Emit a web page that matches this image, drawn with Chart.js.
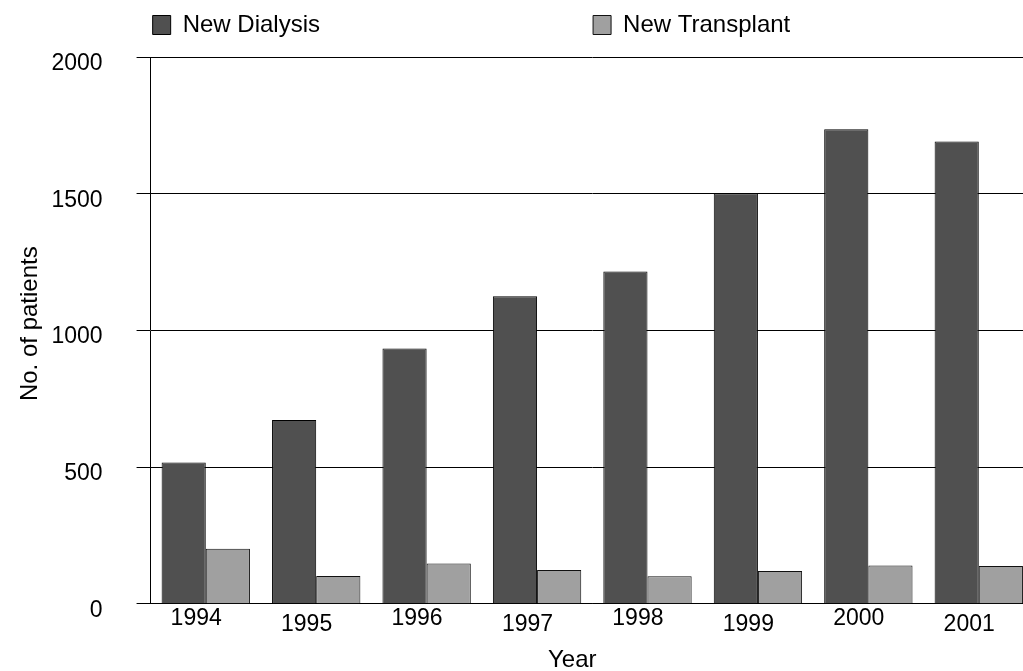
<!DOCTYPE html>
<html>
<head>
<meta charset="utf-8">
<script src="https://cdn.jsdelivr.net/npm/chart.js@4/dist/chart.umd.min.js"></script>
<style>
  html, body { margin: 0; padding: 0; overflow: hidden; background: #fff; }
  #wrap { width: 1034px; height: 671px; }
</style>
</head>
<body>
<div id="wrap"><canvas id="c" width="1034" height="671"></canvas></div>
<script>
const years = ['1994', '1995', '1996', '1997', '1998', '1999', '2000', '2001'];
const newDialysis = [517, 672, 934, 1125, 1215, 1502, 1736, 1691];
const newTransplant = [201, 101, 147, 123, 100, 120, 140, 138];
const seriesNames = ['New Dialysis', 'New Transplant'];
const yTicks = { min: 0, max: 2000, step: 500 };
const legendSpaces = [39, 16];

const FONT = "'Liberation Sans', Arial, Helvetica, sans-serif";

new Chart(document.getElementById('c'), {
  type: 'bar',
  data: {
    labels: years,
    datasets: [
      { label: seriesNames[0], data: newDialysis, backgroundColor: '#505050', borderColor: '#000', borderWidth: 1 },
      { label: seriesNames[1], data: newTransplant, backgroundColor: '#a0a0a0', borderColor: '#111', borderWidth: 1 }
    ]
  },
  options: {
    responsive: false,
    animation: false,
    devicePixelRatio: 1,
    layout: { padding: { left: 15.6, right: 0, top: 0, bottom: 0 } },
    datasets: { bar: { categoryPercentage: 0.8, barPercentage: 1.0 } },
    plugins: {
      tooltip: { enabled: false },
      legend: {
        display: true,
        position: 'top',
        align: 'center',
        labels: {
          color: '#000',
          font: { family: FONT, size: 24 },
          boxWidth: 18,
          boxHeight: 19,
          padding: 13,
          generateLabels(chart) {
            const items = Chart.defaults.plugins.legend.labels.generateLabels(chart);
            items.forEach((it, i) => { it.text = it.text + ' '.repeat(legendSpaces[i] || 0); });
            return items;
          }
        }
      },
      title: {
        display: true,
        text: '',
        weight: 500,
        font: { size: 10, lineHeight: 1 },
        padding: 0
      }
    },
    scales: {
      x: {
        grid: { display: false, drawTicks: false },
        border: { display: true, color: '#000', width: 1 },
        ticks: {
          color: '#000',
          font: { family: FONT, size: 23, lineHeight: '6px' },
          padding: 12,
          maxRotation: 0,
          autoSkip: false,
          callback: (v, i) => (i % 2 ? ['', years[i] + '   '] : [years[i] + '   ', ''])
        },
        title: {
          display: true,
          text: 'Year      ',
          color: '#000',
          font: { family: FONT, size: 24 },
          padding: { top: 6, bottom: -3.5 }
        }
      },
      y: {
        min: yTicks.min,
        max: yTicks.max,
        grid: { display: true, color: '#000', lineWidth: 1, drawTicks: true, tickLength: 14, tickColor: '#000' },
        border: { display: true, color: '#000', width: 1 },
        ticks: {
          stepSize: yTicks.step,
          color: '#000',
          font: { family: FONT, size: 23, lineHeight: '13px' },
          padding: 34,
          callback: (v) => ['', String(v)]
        },
        title: {
          display: true,
          text: '  No. of patients',
          color: '#000',
          font: { family: FONT, size: 24 },
          padding: { top: 0, bottom: -27 }
        }
      }
    }
  }
});
</script>
</body>
</html>
